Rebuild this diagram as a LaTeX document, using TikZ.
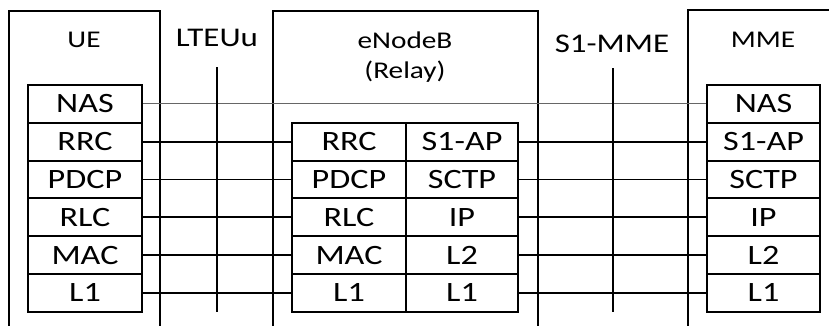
\documentclass[tikz,border=0pt]{standalone}
\usepackage{fontspec}
\setmainfont{Carlito}[FakeStretch=1.22]
\begin{document}
\begin{tikzpicture}[x=1pt,y=-1pt,
  frame/.style={line width=1.9pt,black},
  wire/.style={line width=1.9pt,black},
  cell/.style={draw,line width=1.9pt,rectangle,inner sep=0pt,
    minimum height=37.8pt,text height=18pt,text depth=0pt,
    font=\fontsize{28}{30}\selectfont},
  hdr/.style={anchor=base,inner sep=0pt,font=\fontsize{24}{26}\selectfont},
  bighdr/.style={anchor=base,inner sep=0pt,font=\fontsize{27}{29}\selectfont}]
\useasboundingbox (0,0) rectangle (829,325);

% outer entity frames, open at the bottom
\draw[frame] (9,326) -- (9,11) -- (160,11) -- (160,326);
\draw[frame] (273,326) -- (273,11) -- (538,11) -- (538,326);
\draw[frame] (688,326) -- (688,10) -- (830,10);

% titles
\node[hdr] (ue) at (84,47) {UE};
\node[hdr] (enb) at (405,48) {eNodeB};
\node[hdr] (relay) at (405,78) {(Relay)};
\node[hdr] (mme) at (763,47) {MME};
\node[bighdr] (uu) at (217,46) {LTEUu};
\node[bighdr] (s1) at (612,52) {S1-MME};

% interface reference lines
\coordinate (uutop) at (217,67);
\coordinate (uubot) at (217,312);
\coordinate (s1top) at (613,68);
\coordinate (s1bot) at (613,312);

% UE protocol stack
\foreach \n/\t [count=\k from 0] in {nas/NAS,rrc/RRC,pdcp/PDCP,rlc/RLC,mac/MAC,lone/L1}
  \node[cell,minimum width=114pt] (ue-\n) at (85,{103.9+37.8*\k}) {\t};

% relay protocol stack (radio side and S1 side)
\foreach \n/\t [count=\k from 1] in {rrc/RRC,pdcp/PDCP,rlc/RLC,mac/MAC,lone/L1}
  \node[cell,minimum width=114pt] (enbl-\n) at (349,{103.9+37.8*\k}) {\t};
\foreach \n/\t [count=\k from 1] in {sap/S1-AP,sctp/SCTP,ip/IP,ltwo/L2,lone/L1}
  \node[cell,minimum width=112pt] (enbr-\n) at (462,{103.9+37.8*\k}) {\t};

% MME protocol stack
\foreach \n/\t [count=\k from 0] in {nas/NAS,sap/S1-AP,sctp/SCTP,ip/IP,ltwo/L2,lone/L1}
  \node[cell,minimum width=113pt] (mme-\n) at (763.5,{103.9+37.8*\k}) {\t};

% peer connections
\draw[line width=0.9pt,black!60] (ue-nas.east) -- (mme-nas.west);
\foreach \n in {rrc,pdcp,rlc,mac,lone}
  \draw[wire] (ue-\n.east) -- (enbl-\n.west);
\foreach \n in {sap,sctp,ip,ltwo,lone}
  \draw[wire] (enbr-\n.east) -- (mme-\n.west);

\draw[wire] (uutop) -- (uubot);
\draw[wire] (s1top) -- (s1bot);
\end{tikzpicture}
\end{document}
